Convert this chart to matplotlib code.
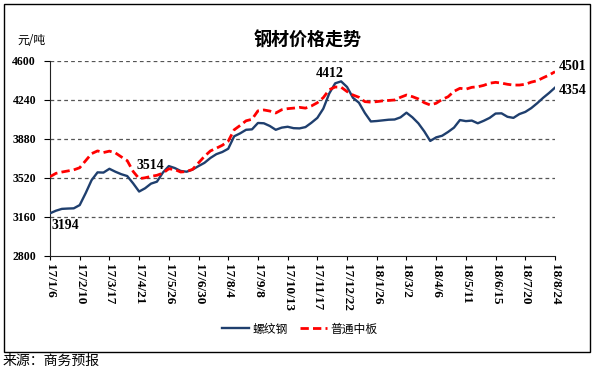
import matplotlib
matplotlib.use("Agg")
import matplotlib.pyplot as plt
from matplotlib.patches import Rectangle
from matplotlib.lines import Line2D

# ---- data (weekly, starting 17/1/6) ----
rebar = [3194, 3218, 3235, 3238, 3240, 3270, 3380, 3500, 3572, 3570,
         3605, 3578, 3555, 3538, 3470, 3395, 3425, 3468, 3486, 3570,
         3630, 3612, 3585, 3578, 3598, 3630, 3660, 3705, 3740, 3760,
         3790, 3905, 3932, 3965, 3969, 4028, 4025, 4000, 3965, 3985,
         3993, 3980, 3978, 3990, 4030, 4075, 4160, 4300, 4394, 4412,
         4360, 4260, 4215, 4120, 4042, 4046, 4052, 4058, 4060, 4080,
         4123, 4080, 4025, 3950, 3862, 3895, 3910, 3945, 3985, 4055,
         4045, 4050, 4025, 4048, 4075, 4115, 4117, 4085, 4075, 4110,
         4130, 4165, 4210, 4260, 4305, 4354]
plate = [3532, 3563, 3575, 3585, 3595, 3615, 3680, 3745, 3770, 3755,
         3768, 3752, 3715, 3680, 3580, 3514, 3522, 3535, 3545, 3565,
         3605, 3598, 3575, 3580, 3600, 3660, 3720, 3770, 3795, 3822,
         3860, 3965, 4005, 4048, 4062, 4140, 4148, 4138, 4120, 4150,
         4160, 4165, 4172, 4165, 4185, 4215, 4262, 4335, 4360, 4358,
         4318, 4286, 4265, 4225, 4220, 4225, 4232, 4236, 4240, 4265,
         4286, 4271, 4250, 4215, 4194, 4210, 4245, 4270, 4320, 4348,
         4340, 4357, 4362, 4375, 4395, 4403, 4396, 4385, 4378, 4378,
         4385, 4405, 4418, 4445, 4470, 4501]
tick_labels = ["17/1/6", "17/2/10", "17/3/17", "17/4/21", "17/5/26", "17/6/30",
               "17/8/4", "17/9/8", "17/10/13", "17/11/17", "17/12/22", "18/1/26",
               "18/3/2", "18/4/6", "18/5/11", "18/6/15", "18/7/20", "18/8/24"]
y_ticks = [2800, 3160, 3520, 3880, 4240, 4600]
series_names = ["螺纹钢", "普通中板"]
annotations = [(0, 3194), (15, 3514), (49, 4412), (85, 4501), (85, 4354)]

W, H = 595, 369
fig = plt.figure(figsize=(W / 100, H / 100), dpi=100)
fig.patch.set_facecolor("white")

# outer frame
fig.patches.append(Rectangle((4 / W, 1 - 352 / H), 586 / W, 348 / H,
                             transform=fig.transFigure, fill=False,
                             edgecolor="black", linewidth=1.0))

ax = fig.add_axes([50 / W, 1 - 256 / H, 505 / W, 195 / H])
x = list(range(len(rebar)))
blue = "#1F3F6E"
red = "#FF0000"
ax.plot(x, rebar, color=blue, linewidth=1.7, solid_joinstyle="round", zorder=3)
ax.plot(x, plate, color=red, linewidth=2.0, linestyle=(0, (3, 1.5)), zorder=3)

ax.set_xlim(0, 85)
ax.set_ylim(2800, 4600)
ax.set_yticks(y_ticks)
for yv in y_ticks[1:]:
    ax.axhline(yv, color="#555555", linewidth=0.9, linestyle=(0, (3, 2.5)), zorder=1)

serif = "Liberation Serif"
ax.set_yticklabels([str(v) for v in y_ticks], fontfamily=serif, fontweight="bold", fontsize=8.5)
ax.set_xticks([i * 5 for i in range(len(tick_labels))])
ax.set_xticklabels(tick_labels, rotation=-90, fontfamily=serif, fontweight="bold",
                   fontsize=9.5, va="top", ha="center")
ax.tick_params(axis="x", direction="out", length=3, width=0.8, pad=3)
ax.tick_params(axis="y", direction="out", length=4, width=0.8, pad=6)
for s in ["top", "right"]:
    ax.spines[s].set_visible(False)
ax.spines["left"].set_color("#222222")
ax.spines["bottom"].set_color("#222222")

# annotations
offsets = {0: (1, -9, "left"), 1: (-2, 9.5, "left"), 2: (-8, 6, "center"),
           3: (3, 4, "left"), 4: (3, -2, "left")}
for i, (xi, yv) in enumerate(annotations):
    dx, dy, ha = offsets[i]
    ax.annotate(str(yv), (xi, yv), xytext=(dx, dy), textcoords="offset points",
                ha=ha, va="center", fontfamily=serif, fontweight="bold",
                fontsize=10, annotation_clip=False)

cjk = ["Noto Sans CJK SC", "DejaVu Sans"]
fig.text(308 / W, 1 - 40 / H, "钢材价格走势", ha="center", va="center",
         fontsize=13, fontweight="bold", family=cjk)
fig.text(17 / W, 1 - 40 / H, "元/吨", ha="left", va="center", fontsize=8.5, family=cjk)
fig.text(3 / W, 1 - 361 / H, "来源：商务预报", ha="left", va="center", fontsize=10, family=cjk)

handles = [Line2D([], [], color=blue, linewidth=1.7),
           Line2D([], [], color=red, linewidth=2.0, linestyle=(0, (3, 1.5)))]
leg = fig.legend(handles, series_names, loc="center", bbox_to_anchor=(300 / W, 1 - 329 / H),
                 ncol=2, frameon=False, prop={"family": cjk, "size": 8.5},
                 handlelength=2.3, handletextpad=0.3, columnspacing=1.0)

fig.savefig("out.png", dpi=100)
